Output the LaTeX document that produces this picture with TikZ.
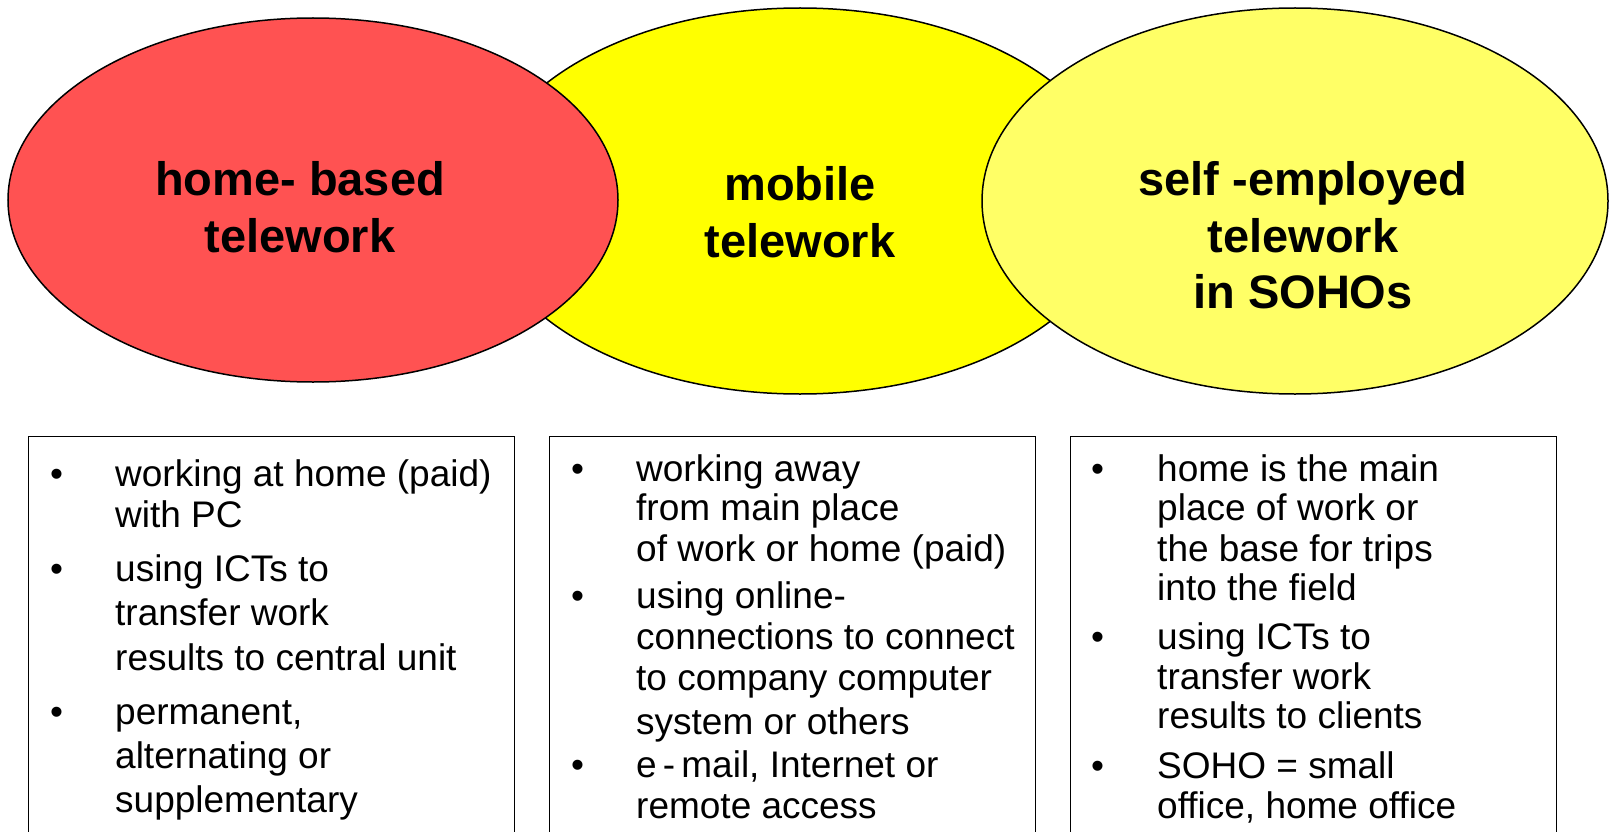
\documentclass[tikz,border=0pt]{standalone}
\usepackage{fontspec}
\setmainfont{Liberation Sans}
\usetikzlibrary{shapes.geometric}
\definecolor{redfill}{RGB}{255,82,82}
\definecolor{yelfill}{RGB}{255,255,0}
\definecolor{ltyel}{RGB}{255,255,102}
\begin{document}
\begin{tikzpicture}[x=1pt,y=-1pt,
  oval/.style={ellipse,draw=black,line width=1.5pt,inner sep=0pt},
  titletext/.style={anchor=base,inner sep=0pt,font=\fontsize{47}{56}\selectfont\bfseries},
  itemtext/.style={anchor=base west,inner sep=0pt,font=\fontsize{37}{44}\selectfont},
  bullettext/.style={anchor=base,inner sep=0pt,font=\fontsize{37}{44}\selectfont},
  listbox/.style={draw=black,line width=1pt}]
\useasboundingbox (0,0) rectangle (1611,832);
\clip (0,0) rectangle (1611,832);
\fill[white] (0,0) rectangle (1611,832);
% ellipses
\node[oval,fill=yelfill,minimum width=640pt,minimum height=386pt] (mob) at (800,201) {};
\node[oval,fill=redfill,minimum width=610pt,minimum height=364pt] (home) at (313,200) {};
\node[oval,fill=ltyel,minimum width=626pt,minimum height=386pt] (self) at (1295,201) {};
% titles
\node[titletext] (h1) at (300,195) {home- based};
\node[titletext] (h2) at (300,252) {telework};
\node[titletext] (m1) at (800,200) {mobile};
\node[titletext] (m2) at (800,257) {telework};
\node[titletext] (s1) at (1303,195) {self -employed};
\node[titletext] (s2) at (1303,252) {telework};
\node[titletext] (s3) at (1303,308) {in SOHOs};
% boxes
\draw[listbox] (28,436) -- (28,850) (28,436) -- (514,436) -- (514,850);
\draw[listbox] (549,436) -- (549,850) (549,436) -- (1035,436) -- (1035,850);
\draw[listbox] (1070,436) -- (1070,850) (1070,436) -- (1556,436) -- (1556,850);
\coordinate (b1) at (28,436);
% box 1
\foreach \y/\n in {486/1,581.5/2,724/3} \node[bullettext] (ba\n) at (56.5,\y) {•};
\foreach \y/\t [count=\i] in {486/{working at home (paid)},527/{with PC},581.5/{using ICTs to},625.7/{transfer work},670/{results to central unit},724/{permanent,},768.5/{alternating or},812.7/{supplementary}}
  \node[itemtext] (ta\i) at (115,\y) {\t};
% box 2
\foreach \y/\n in {481/1,608/2,777.7/3} \node[bullettext] (bb\n) at (577.5,\y) {•};
\foreach \y/\t [count=\i] in {481/{working away},520/{from main place},561/{of work or home (paid)},608/{using online-},649/{connections to connect},690/{to company computer},734.6/{system or others},777.7/{e\,-\,mail, Internet or},818.8/{remote access}}
  \node[itemtext] (tb\i) at (636,\y) {\t};
% box 3
\foreach \y/\n in {481/1,649/2,778/3} \node[bullettext] (bc\n) at (1097.5,\y) {•};
\foreach \y/\t [count=\i] in {481/{home is the main},520/{place of work or},561/{the base for trips},600/{into the field},649/{using ICTs to},689/{transfer work},728/{results to clients},778/{SOHO = small},818/{office, home office}}
  \node[itemtext] (tc\i) at (1157,\y) {\t};
\end{tikzpicture}
\end{document}
